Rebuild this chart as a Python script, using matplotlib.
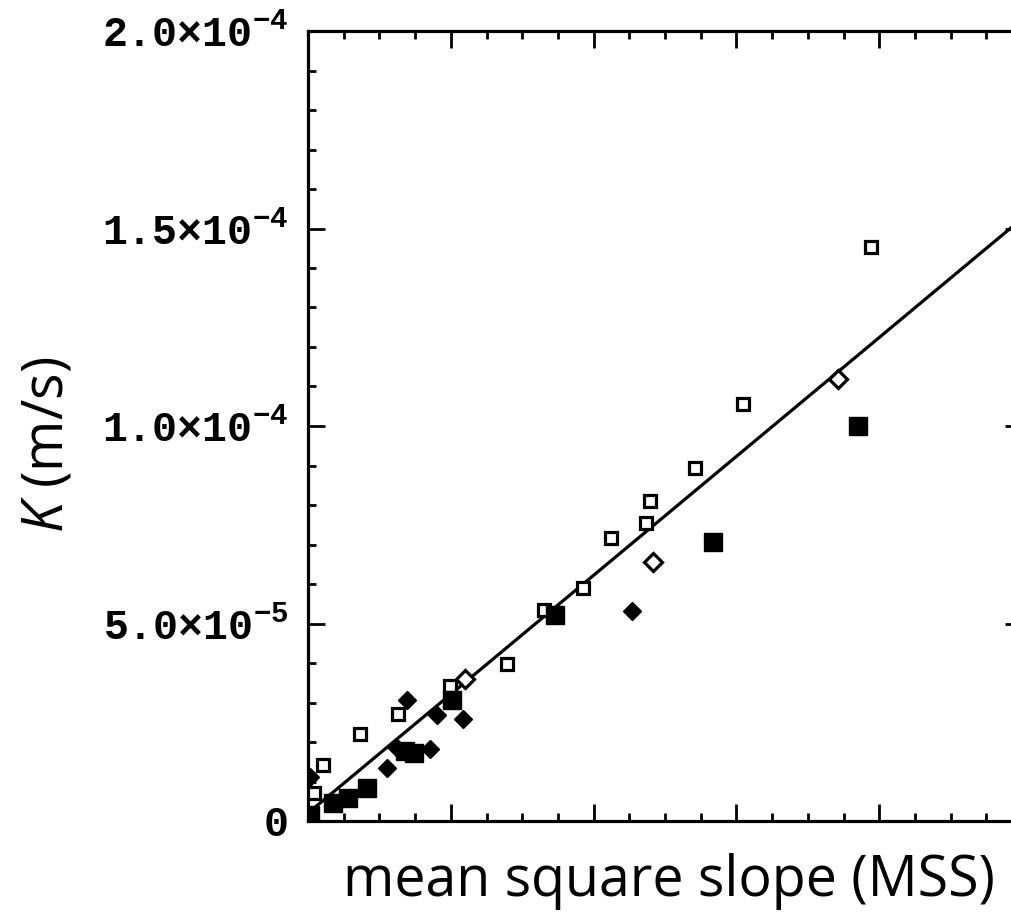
import numpy as np
import matplotlib
matplotlib.use('Agg')
import matplotlib.pyplot as plt
from matplotlib.ticker import MultipleLocator, FuncFormatter

# transfer velocity K versus mean square slope
open_sq_mss = [0.00042, 0.00105, 0.00364, 0.0063, 0.00994, 0.01394, 0.01653,
               0.01926, 0.02122, 0.02367, 0.02395, 0.0271, 0.03046, 0.03943]
open_sq_k = [7.1e-6, 1.42e-5, 2.2e-5, 2.71e-5, 3.42e-5, 3.98e-5, 5.34e-5,
             5.9e-5, 7.17e-5, 7.55e-5, 8.1e-5, 8.94e-5, 1.056e-4, 1.453e-4]

open_dia_mss = [0.011, 0.02416, 0.03711]
open_dia_k = [3.6e-5, 6.56e-5, 1.119e-4]

full_sq_mss = [0.00014, 0.00175, 0.0028, 0.00413, 0.0068, 0.0074, 0.01008,
               0.0173, 0.02836, 0.03852]
full_sq_k = [1.5e-6, 4.6e-6, 5.8e-6, 8.4e-6, 1.77e-5, 1.72e-5, 3.06e-5,
             5.22e-5, 7.06e-5, 1.0e-4]

full_dia_mss = [0.00014, 0.00553, 0.00616, 0.00693, 0.00854, 0.00903,
                0.01085, 0.02269]
full_dia_k = [1.11e-5, 1.34e-5, 1.87e-5, 3.06e-5, 1.82e-5, 2.68e-5,
              2.59e-5, 5.32e-5]

# linear fit K = slope * MSS + intercept
fit_slope = 3.01e-3
fit_intercept = 2.0e-6
fit_start = 0.0005

plt.rcParams['font.family'] = 'Liberation Mono'
plt.rcParams['font.weight'] = 'bold'
plt.rcParams['mathtext.fontset'] = 'custom'
plt.rcParams['mathtext.rm'] = 'Open Sans:weight=normal'
plt.rcParams['mathtext.it'] = 'Open Sans:style=italic:weight=normal'


def sci_label(v, pos):
    if abs(v) < 1e-12:
        return '0'
    if v < 0:
        return ''
    e = int(np.floor(np.log10(v) + 1e-9))
    m = v / 10.0 ** e
    return r'$\mathregular{%.1f{\times}10^{%d}}$' % (m, e)


fig = plt.figure(figsize=(10.12, 9.18), dpi=100)
ax = fig.add_axes([308 / 1012, 97 / 918, 714 / 1012, 790 / 918])

xs = np.array([fit_start, 0.05])
ax.plot(xs, fit_slope * xs + fit_intercept, color='black', lw=2.3, zorder=2)

ax.plot(open_sq_mss, open_sq_k, 's', ms=9.3, mfc='white', mec='black',
        mew=2.3, zorder=3)
ax.plot(open_dia_mss, open_dia_k, 'D', ms=8.8, mfc='white', mec='black',
        mew=2.3, zorder=3)
ax.plot(full_sq_mss, full_sq_k, 's', ms=13, mfc='black', mec='black',
        mew=1, zorder=3)
ax.plot(full_dia_mss, full_dia_k, 'D', ms=9, mfc='black', mec='black',
        mew=1, zorder=3)

ax.set_xlim(0, 0.05)
ax.set_ylim(0, 2.0e-4)
ax.xaxis.set_major_locator(MultipleLocator(0.01))
ax.xaxis.set_minor_locator(MultipleLocator(0.0025))
ax.yaxis.set_major_locator(MultipleLocator(5e-5))
ax.yaxis.set_minor_locator(MultipleLocator(1e-5))
ax.yaxis.set_major_formatter(FuncFormatter(sci_label))
ax.tick_params(which='both', direction='in', top=True, right=True,
               width=2, labelbottom=False, labelsize=30, pad=14)
ax.tick_params(which='major', length=12)
ax.tick_params(which='minor', length=6)
for s in ax.spines.values():
    s.set_linewidth(2.3)

fig.text(669 / 1012, 1 - 882 / 918, 'mean square slope (MSS)',
         family='Open Sans', weight='normal', fontsize=40,
         ha='center', va='center')
fig.text(48 / 1012, 1 - 445 / 918, r'$\mathit{K}$ (m/s)',
         family='Open Sans', weight='normal', fontsize=40,
         rotation=90, ha='center', va='center')

fig.savefig('out.png', dpi=100)
